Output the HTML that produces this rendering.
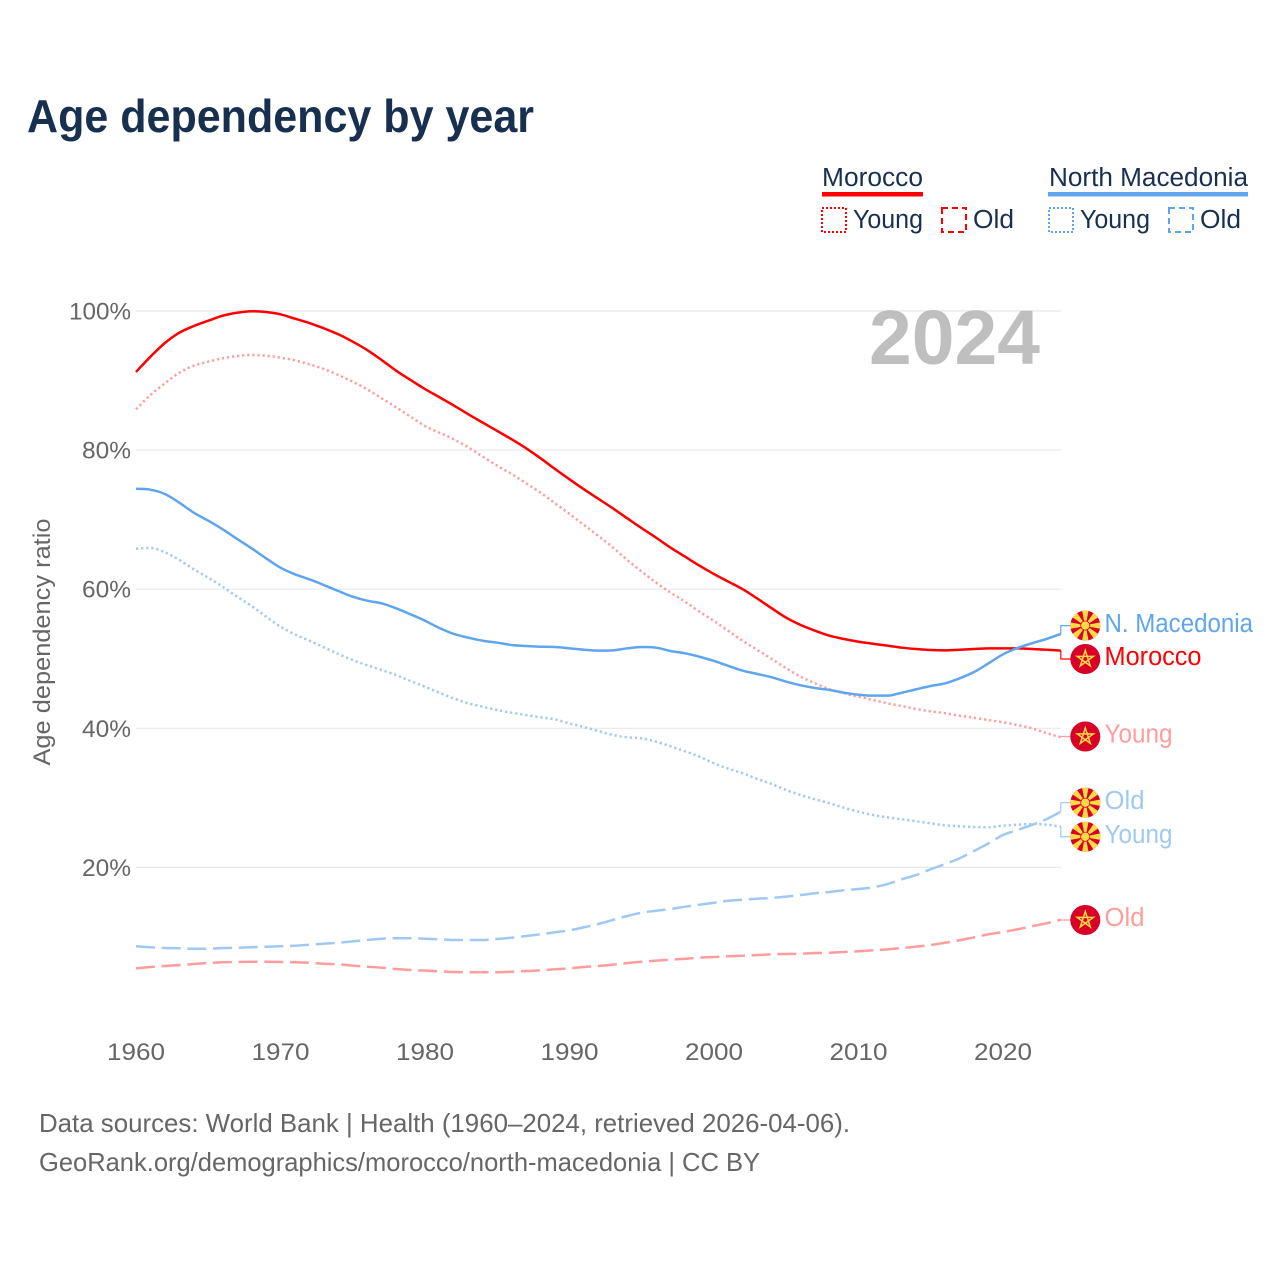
<!DOCTYPE html>
<html lang="en">
<head>
<meta charset="utf-8">
<title>Age dependency by year</title>
<style>
html,body{margin:0;padding:0;background:#fff;}
svg{display:block;font-family:"Liberation Sans",sans-serif;}
</style>
</head>
<body>
<svg id="chart" xmlns="http://www.w3.org/2000/svg" width="1280" height="1280" viewBox="0 0 1280 1280">
  <defs>
    <g id="flag-mk">
      <circle r="15" fill="#d80027"/>
      <g fill="#ffda44">
        <polygon points="-1,-3 1,-3 3.2,-15 -3.2,-15"/>
        <polygon points="-1,-3 1,-3 3.2,-15 -3.2,-15" transform="rotate(45)"/>
        <polygon points="-1,-3 1,-3 3.2,-15 -3.2,-15" transform="rotate(90)"/>
        <polygon points="-1,-3 1,-3 3.2,-15 -3.2,-15" transform="rotate(135)"/>
        <polygon points="-1,-3 1,-3 3.2,-15 -3.2,-15" transform="rotate(180)"/>
        <polygon points="-1,-3 1,-3 3.2,-15 -3.2,-15" transform="rotate(225)"/>
        <polygon points="-1,-3 1,-3 3.2,-15 -3.2,-15" transform="rotate(270)"/>
        <polygon points="-1,-3 1,-3 3.2,-15 -3.2,-15" transform="rotate(315)"/>
        <circle r="4.6" stroke="#d80027" stroke-width="0.8"/>
      </g>
    </g>
    <g id="flag-ma">
      <circle r="15" fill="#d80027"/>
      <polygon points="0,-8.5 5,6.9 -8.1,-2.6 8.1,-2.6 -5,6.9" fill="none" stroke="#ffda44" stroke-width="1.5" stroke-linejoin="miter"/>
    </g>
  </defs>

  <text x="27" y="132" font-size="46" font-weight="700" fill="#18304f" textLength="507" lengthAdjust="spacingAndGlyphs">Age dependency by year</text>

  <g id="legend" fill="#18304f" font-size="25.5">
    <g>
      <text x="822" y="186" textLength="101" lengthAdjust="spacingAndGlyphs">Morocco</text>
      <rect x="822" y="192" width="101" height="4.5" fill="#ff0000"/>
      <rect x="822" y="208" width="24" height="24" fill="none" stroke="#ff0000" stroke-width="2" stroke-dasharray="2 2"/>
      <text x="853" y="228" textLength="70" lengthAdjust="spacingAndGlyphs">Young</text>
      <rect x="942" y="208" width="24" height="24" fill="none" stroke="#ff0000" stroke-width="2" stroke-dasharray="6 4"/>
      <text x="973" y="228" textLength="41" lengthAdjust="spacingAndGlyphs">Old</text>
    </g>
    <g>
      <text x="1049" y="186" textLength="199" lengthAdjust="spacingAndGlyphs">North Macedonia</text>
      <rect x="1048" y="192" width="200" height="4.5" fill="#5fa5ee"/>
      <rect x="1049" y="208" width="24" height="24" fill="none" stroke="#5fa5ee" stroke-width="2" stroke-dasharray="2 2"/>
      <text x="1080" y="228" textLength="70" lengthAdjust="spacingAndGlyphs">Young</text>
      <rect x="1169" y="208" width="24" height="24" fill="none" stroke="#5fa5ee" stroke-width="2" stroke-dasharray="6 4"/>
      <text x="1200" y="228" textLength="41" lengthAdjust="spacingAndGlyphs">Old</text>
    </g>
  </g>

  <g id="grid"></g>
  <g id="yticks"></g>
  <g id="xticks"></g>

  <text transform="translate(50,642) rotate(-90)" text-anchor="middle" font-size="24.5" fill="#666666" textLength="247" lengthAdjust="spacingAndGlyphs">Age dependency ratio</text>

  <text id="year-watermark" x="869" y="364" font-size="77" font-weight="700" fill="#bfbfbf" textLength="171" lengthAdjust="spacingAndGlyphs"></text>

  <g id="series"></g>
  <g id="endlabels"></g>

  <text x="39" y="1132" font-size="26" fill="#666666" textLength="811" lengthAdjust="spacingAndGlyphs">Data sources: World Bank | Health (1960–2024, retrieved 2026-04-06).</text>
  <text x="39" y="1171" font-size="26" fill="#666666" textLength="721" lengthAdjust="spacingAndGlyphs">GeoRank.org/demographics/morocco/north-macedonia | CC BY</text>
</svg>

<script>
const years = [
  1960,1961,1962,1963,1964,1965,1966,1967,1968,1969,
  1970,1971,1972,1973,1974,1975,1976,1977,1978,1979,
  1980,1981,1982,1983,1984,1985,1986,1987,1988,1989,
  1990,1991,1992,1993,1994,1995,1996,1997,1998,1999,
  2000,2001,2002,2003,2004,2005,2006,2007,2008,2009,
  2010,2011,2012,2013,2014,2015,2016,2017,2018,2019,
  2020,2021,2022,2023,2024
];
const moroccoTotal = [
  91.23,93.43,95.40,96.88,97.84,98.60,99.32,99.75,99.96,99.86,
  99.52,98.89,98.27,97.51,96.65,95.59,94.39,92.95,91.42,90.08,
  88.78,87.60,86.41,85.15,83.95,82.75,81.55,80.26,78.82,77.28,
  75.80,74.36,73.00,71.63,70.19,68.76,67.40,65.97,64.67,63.38,
  62.18,61.08,59.98,58.65,57.25,55.90,54.85,54.03,53.31,52.84,
  52.45,52.16,51.88,51.59,51.40,51.26,51.21,51.30,51.40,51.50,
  51.50,51.50,51.40,51.30,51.16
];
const moroccoYoung = [
  85.87,87.92,89.60,91.13,92.14,92.71,93.20,93.53,93.67,93.57,
  93.29,92.91,92.34,91.66,90.80,89.83,88.74,87.45,86.15,84.80,
  83.46,82.50,81.55,80.40,79.05,77.76,76.56,75.23,73.87,72.35,
  70.81,69.23,67.65,66.02,64.20,62.52,60.93,59.50,58.20,56.76,
  55.43,53.99,52.55,51.26,49.96,48.63,47.42,46.47,45.61,45.03,
  44.54,44.07,43.59,43.21,42.77,42.44,42.16,41.81,41.52,41.19,
  40.86,40.47,40.00,39.32,38.71
];
const moroccoOld = [
  5.49,5.68,5.82,5.97,6.11,6.25,6.36,6.40,6.43,6.43,
  6.40,6.36,6.30,6.15,6.07,5.87,5.72,5.58,5.39,5.25,
  5.15,5.06,4.96,4.92,4.92,4.93,5.00,5.10,5.20,5.35,
  5.49,5.68,5.82,6.02,6.25,6.44,6.59,6.73,6.87,7.02,
  7.12,7.22,7.30,7.40,7.51,7.55,7.59,7.69,7.74,7.84,
  7.94,8.08,8.22,8.41,8.60,8.84,9.17,9.52,9.95,10.38,
  10.71,11.10,11.53,11.96,12.48
];
const macedoniaTotal = [
  74.45,74.31,73.69,72.44,71.00,69.85,68.61,67.22,65.88,64.44,
  63.09,62.14,61.42,60.60,59.74,58.92,58.35,57.97,57.25,56.39,
  55.47,54.42,53.56,53.03,52.59,52.31,51.98,51.83,51.73,51.69,
  51.50,51.30,51.16,51.21,51.50,51.69,51.59,51.11,50.78,50.29,
  49.68,48.96,48.28,47.81,47.33,46.70,46.18,45.79,45.51,45.12,
  44.83,44.69,44.69,45.12,45.61,46.08,46.47,47.19,48.09,49.35,
  50.64,51.54,52.22,52.84,53.56
];
const macedoniaYoung = [
  65.82,65.92,65.30,64.20,62.86,61.65,60.36,58.92,57.58,56.05,
  54.61,53.51,52.59,51.65,50.68,49.82,49.06,48.38,47.66,46.80,
  45.98,45.12,44.28,43.59,43.10,42.63,42.24,41.91,41.58,41.29,
  40.69,40.19,39.61,39.04,38.71,38.56,38.07,37.41,36.69,35.92,
  34.97,34.19,33.53,32.71,31.99,31.13,30.41,29.79,29.22,28.58,
  28.01,27.53,27.20,26.92,26.63,26.34,26.05,25.91,25.81,25.77,
  26.00,26.14,26.24,26.14,25.85
];
const macedoniaOld = [
  8.66,8.51,8.41,8.37,8.31,8.31,8.41,8.45,8.51,8.60,
  8.66,8.74,8.89,9.03,9.17,9.37,9.56,9.75,9.81,9.81,
  9.75,9.66,9.56,9.56,9.56,9.71,9.89,10.14,10.38,10.67,
  10.96,11.39,11.86,12.44,13.01,13.49,13.77,14.02,14.35,14.64,
  14.92,15.21,15.36,15.50,15.60,15.79,16.03,16.28,16.46,16.71,
  16.89,17.14,17.61,18.29,18.91,19.73,20.49,21.31,22.36,23.46,
  24.66,25.38,26.10,26.92,28.01
];
const yTickValues = [20,40,60,80,100];
const yTickLabels = ["20%","40%","60%","80%","100%"];
const xTickValues = [1960,1970,1980,1990,2000,2010,2020];
const xTickLabels = ["1960","1970","1980","1990","2000","2010","2020"];

const NS = "http://www.w3.org/2000/svg";
function xScale(year){ return 136 + (year - 1960) * 14.45; }
function yScale(v){ return 1006.5 - v * 6.955; }
function make(tag, attrs, parent){
  const el = document.createElementNS(NS, tag);
  for (const k in attrs) el.setAttribute(k, attrs[k]);
  parent.appendChild(el);
  return el;
}
function monotonePath(xs, ys){
  const n = xs.length;
  const dx = [], sl = [], m = [];
  for (let i = 0; i < n - 1; i++){
    dx[i] = xs[i+1] - xs[i];
    sl[i] = (ys[i+1] - ys[i]) / dx[i];
  }
  m[0] = sl[0];
  m[n-1] = sl[n-2];
  for (let i = 1; i < n - 1; i++){
    m[i] = sl[i-1] * sl[i] <= 0 ? 0 : (sl[i-1] + sl[i]) / 2;
    const lim = 3 * Math.min(Math.abs(sl[i-1]), Math.abs(sl[i]));
    if (Math.abs(m[i]) > lim) m[i] = Math.sign(m[i]) * lim;
  }
  let d = "M" + xs[0].toFixed(2) + " " + ys[0].toFixed(2);
  for (let i = 0; i < n - 1; i++){
    const h = dx[i] / 3;
    d += "C" + (xs[i]+h).toFixed(2) + " " + (ys[i]+m[i]*h).toFixed(2) + " " +
         (xs[i+1]-h).toFixed(2) + " " + (ys[i+1]-m[i+1]*h).toFixed(2) + " " +
         xs[i+1].toFixed(2) + " " + ys[i+1].toFixed(2);
  }
  return d;
}

const gridG = document.getElementById("grid");
const yG = document.getElementById("yticks");
const xG = document.getElementById("xticks");
const seriesG = document.getElementById("series");
const labelsG = document.getElementById("endlabels");

yTickValues.forEach(function(v, i){
  const line = make("line", {x1:136, x2:1060.8, y1:yScale(v), y2:yScale(v), stroke:"#e8e8e8", "stroke-width":1.2}, gridG);
  
  
  const t = make("text", {x:131, y:yScale(v)+8.5, "text-anchor":"end", "font-size":24.5, fill:"#666666",
    textLength: yTickLabels[i].length === 4 ? 62 : 49, lengthAdjust:"spacingAndGlyphs"}, yG);
  t.textContent = yTickLabels[i];
  
  
});

xTickValues.forEach(function(v, i){
  const t = make("text", {x:xScale(v), y:1060, "text-anchor":"middle", "font-size":24.5, fill:"#666666",
    textLength:58, lengthAdjust:"spacingAndGlyphs"}, xG);
  t.textContent = xTickLabels[i];
  
  
});

document.getElementById("year-watermark").textContent = String(years[years.length - 1]);

function drawLine(values, color, dash, name){
  const d = monotonePath(years.map(xScale), values.map(yScale));
  const attrs = {d:d, fill:"none", stroke:color, "stroke-width":2.5, "stroke-linejoin":"round"};
  if (dash) attrs["stroke-dasharray"] = dash;
  const p = make("path", attrs, seriesG);
  
  
}

const RED = "#ff0000", BLUE = "#5fa5ee", LRED = "#ff9c9c", LBLUE = "#9fc9f3";
const DOT = "2.2 2.9", DASH = "19 6.7";
drawLine(macedoniaOld, LBLUE, DASH, "line-north-macedonia-old");
drawLine(moroccoOld, LRED, DASH, "line-morocco-old");
drawLine(macedoniaYoung, LBLUE, DOT, "line-north-macedonia-young");
drawLine(moroccoYoung, LRED, DOT, "line-morocco-young");
drawLine(moroccoTotal, RED, null, "line-morocco-total");
drawLine(macedoniaTotal, BLUE, null, "line-north-macedonia-total");

function endLabel(values, text, color, flag, dy, width, name){
  const last = values[values.length - 1];
  const xEnd = xScale(years[years.length - 1]);
  const y0 = yScale(last);
  const y1 = y0 + dy;
  const d = "M" + xEnd + " " + y0 + "V" + y1 + "H1072";
  const c = make("path", {d:d, fill:"none", stroke:color, "stroke-width":1.2}, labelsG);
  
  
  const u = make("use", {href:"#" + flag, transform:"translate(1085.3," + y1 + ")"}, labelsG);
  
  
  const t = make("text", {x:1104.5, y:y1 + 6.2, "font-size":25.5, fill:color, textLength:width, lengthAdjust:"spacingAndGlyphs"}, labelsG);
  t.textContent = text;
  
  
}

endLabel(macedoniaTotal, "N. Macedonia", BLUE, "flag-mk", -8.4, 148.5, "end-north-macedonia-total");
endLabel(moroccoTotal, "Morocco", RED, "flag-ma", 8.3, 97, "end-morocco-total");
endLabel(moroccoYoung, "Young", LRED, "flag-ma", -0.8, 68, "end-morocco-young");
endLabel(macedoniaOld, "Old", LBLUE, "flag-mk", -9, 40, "end-north-macedonia-old");
endLabel(macedoniaYoung, "Young", LBLUE, "flag-mk", 10, 68, "end-north-macedonia-young");
endLabel(moroccoOld, "Old", LRED, "flag-ma", 0.3, 40, "end-morocco-old");
</script>
</body>
</html>
